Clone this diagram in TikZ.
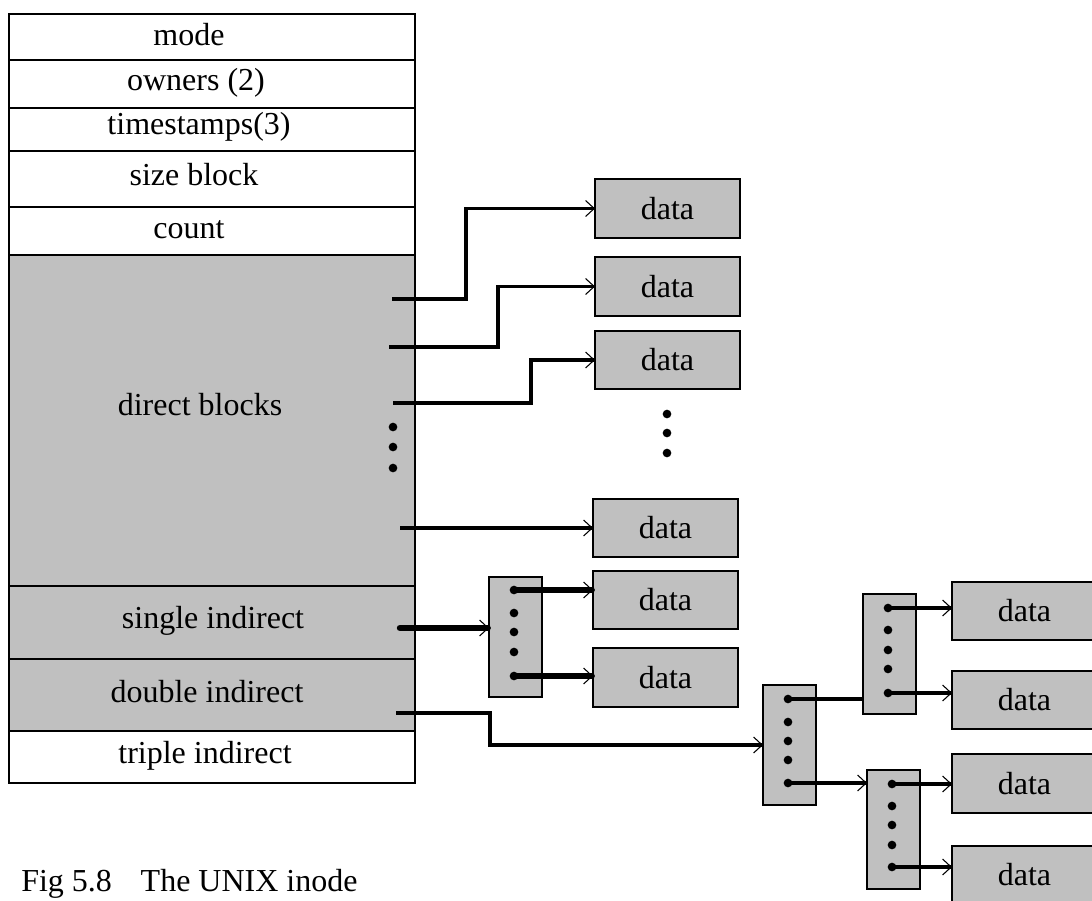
\documentclass[tikz,border=0pt]{standalone}
\usepackage{fontspec}
\setmainfont{Liberation Serif}
\usetikzlibrary{arrows.meta}
\def\px{0.75pt}
\definecolor{boxgray}{HTML}{C0C0C0}
\tikzset{
  cell/.style={draw=black, line width=1.2pt, inner sep=0pt, outer sep=0pt},
  graycell/.style={cell, fill=boxgray},
  whitecell/.style={cell, fill=white},
  lbl/.style={anchor=base, inner sep=0pt, font=\fontsize{24}{28}\selectfont},
  datatext/.style={font=\fontsize{24}{28}\selectfont},
  databox/.style={graycell, datatext, minimum width={145*\px}, minimum height={58*\px}},
  ibox/.style={graycell, minimum width={53*\px}, minimum height={120*\px}},
  tip/.style={-{Straight Barb[length=6.5pt, width=12pt, line width=0.8pt 0]}},
  conn/.style={draw=black, line width=2.7pt, tip},
  plainconn/.style={draw=black, line width=2.7pt},
  thickconn/.style={draw=black, line width=4.8pt, tip},
  pdot/.style={fill=black, circle, inner sep=0pt, minimum size=6.5pt},
}
\begin{document}
\begin{tikzpicture}[x=\px, y=-\px]
\useasboundingbox (0,0) rectangle (1092,900);
\clip (0,0) rectangle (1092,900);
\fill[white] (0,0) rectangle (1092,900);

% inode rows
\node[whitecell, minimum width={406*\px}, minimum height={46*\px}] (rmode) at (212,37) {};
\node[whitecell, minimum width={406*\px}, minimum height={48*\px}] (rown) at (212,84) {};
\node[whitecell, minimum width={406*\px}, minimum height={43*\px}] (rts) at (212,129.5) {};
\node[whitecell, minimum width={406*\px}, minimum height={56*\px}] (rsize) at (212,179) {};
\node[whitecell, minimum width={406*\px}, minimum height={48*\px}] (rcount) at (212,231) {};
\node[graycell, minimum width={406*\px}, minimum height={331*\px}] (rdirect) at (212,420.5) {};
\node[graycell, minimum width={406*\px}, minimum height={73*\px}] (rsingle) at (212,622.5) {};
\node[graycell, minimum width={406*\px}, minimum height={72*\px}] (rdouble) at (212,695) {};
\node[whitecell, minimum width={406*\px}, minimum height={52*\px}] (rtriple) at (212,757) {};

\node[lbl] (tmode) at (189,45) {mode};
\node[lbl] (town) at (196,90) {owners (2)};
\node[lbl] (tts) at (199,134) {timestamps(3)};
\node[lbl] (tsize) at (194,185) {size block};
\node[lbl] (tcount) at (189,238) {count};
\node[lbl] (tdirect) at (200,415) {direct blocks};
\node[lbl] (tsingle) at (213,628) {single indirect};
\node[lbl] (tdouble) at (207,702) {double indirect};
\node[lbl] (ttriple) at (205,763) {triple indirect};

% dots in direct blocks
\node[pdot] (dd1) at (393,427) {};
\node[pdot] (dd2) at (393,447) {};
\node[pdot] (dd3) at (393,468) {};

% data boxes (direct)
\node[databox, minimum height={59*\px}] (d1) at (667.5,208.5) {data};
\node[databox, minimum height={59*\px}] (d2) at (667.5,286.5) {data};
\node[databox] (d3) at (667.5,360) {data};
\node[pdot] (md1) at (667,414) {};
\node[pdot] (md2) at (667,433) {};
\node[pdot] (md3) at (667,453) {};
\node[databox] (d4) at (665.5,528) {data};
\node[databox] (d5) at (665.5,600) {data};
\node[databox, minimum height={59*\px}] (d6) at (665.5,677.5) {data};

% right data boxes
\node[databox] (e1) at (1024.5,611) {data};
\node[databox] (e2) at (1024.5,700) {data};
\node[databox, minimum height={59*\px}] (e3) at (1024.5,783.5) {data};
\node[databox] (e4) at (1024.5,875) {data};

% index blocks
\node[ibox] (ib1) at (515.5,637) {};
\node[ibox] (ib2) at (789.5,745) {};
\node[ibox] (ib3) at (889.5,654) {};
\node[ibox, minimum height={119*\px}] (ib4) at (893.5,829.5) {};

\foreach \n/\x/\y in {p1/514/590,p2/514/613,p3/514/632,p4/514/652,p5/514/676,
                      q1/788/699,q2/788/722,q3/788/741,q4/788/760,q5/788/783,
                      r1/888/608,r2/888/630,r3/888/650,r4/888/669,r5/888/693,
                      t1/892/784,t2/892/806,t3/892/825,t4/892/845,t5/892/867}
  \node[pdot] (\n) at (\x,\y) {};

% start points inside the inode
\coordinate (s1) at (392,299);
\coordinate (s2) at (389,347);
\coordinate (s3) at (393,403);
\coordinate (s4) at (400,528);
\coordinate (ss) at (400,628);
\coordinate (sd) at (396,713);

% direct connectors
\draw[conn] (s1) -- ++(74,0) |- (d1.west);
\draw[conn] (s2) -- ++(109,0) |- (d2.west);
\draw[conn] (s3) -- ++(138,0) |- (d3.west);
\draw[conn] (s4) -- (s4 -| d4.west);

% single indirect
\draw[thickconn, line cap=round] (ss) -- (ss -| ib1.west);
\draw[thickconn, line cap=round] (p1.center) -- (p1 -| d5.west);
\draw[thickconn, line cap=round] (p5.center) -- (p5 -| d6.west);

% double indirect
\draw[conn] (sd) -- ++(94,0) |- (ib2.west);
\draw[plainconn] (q1.center) -- (q1 -| ib3.west);
\draw[conn] (q5.center) -- (q5 -| ib4.west);
\draw[conn] (r1.center) -- (r1 -| e1.west);
\draw[conn] (r5.center) -- (r5 -| e2.west);
\draw[conn] (t1.center) -- (t1 -| e3.west);
\draw[conn] (t5.center) -- (t5 -| e4.west);

% caption
\node[lbl, anchor=base west] (cap) at (21,891) {Fig 5.8\hspace{0.9em}The UNIX inode};
\end{tikzpicture}
\end{document}
